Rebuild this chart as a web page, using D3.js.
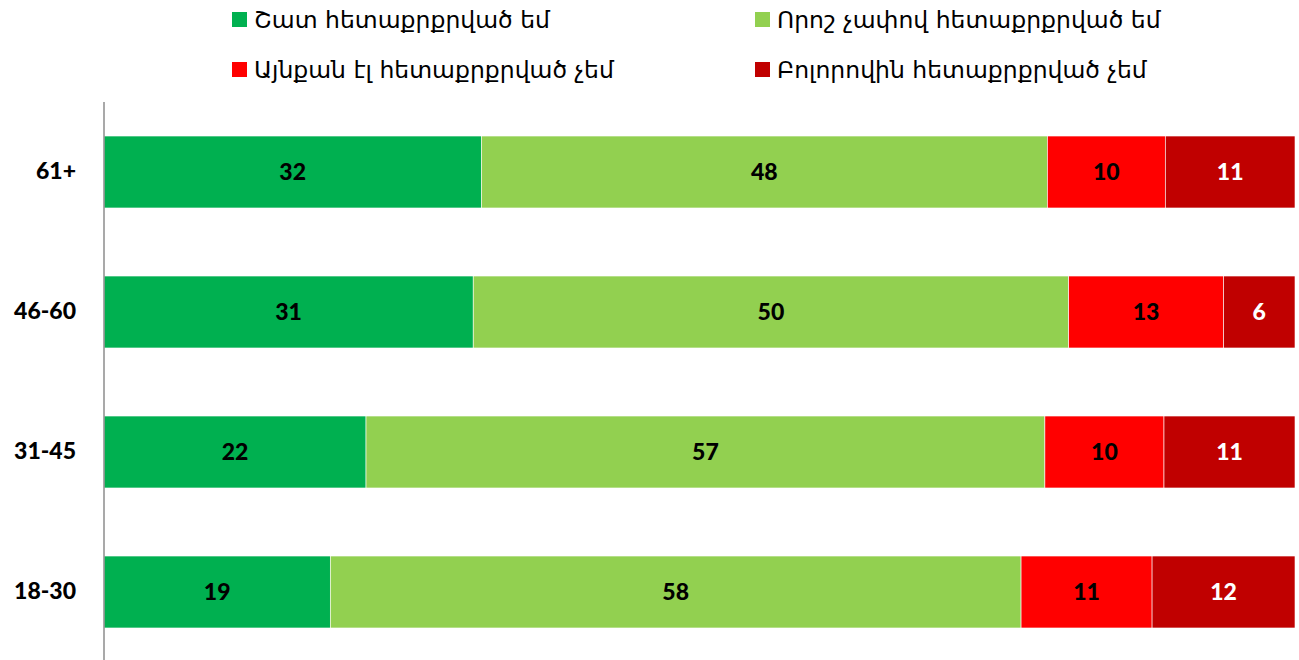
<!DOCTYPE html>
<html><head><meta charset="utf-8">
<script src="https://cdn.jsdelivr.net/npm/d3@7"></script>
<style>body{margin:0;background:#fff}</style>
</head><body>
<svg id="c" width="1299" height="660"></svg>
<script>
const categories = ["61+", "46-60", "31-45", "18-30"];
const seriesNames = ["Շատ հետաքրքրված եմ", "Որոշ չափով հետաքրքրված եմ", "Այնքան էլ հետաքրքրված չեմ", "Բոլորովին հետաքրքրված չեմ"];
const veryInterested = [32, 31, 22, 19];
const somewhatInterested = [48, 50, 57, 58];
const notSoInterested = [10, 13, 10, 11];
const notAtAll = [11, 6, 11, 12];
const colors = ["#00B050", "#92D050", "#FF0000", "#C00000"];
const labelColors = ["#000", "#000", "#000", "#fff"];

const seriesVals = [veryInterested, somewhatInterested, notSoInterested, notAtAll];
const svg = d3.select("#c");
const x0 = 104, x1 = 1295;
const y = d3.scaleBand().domain(categories).range([102, 662]).paddingInner(0.486).paddingOuter(0.243);

categories.forEach((cat, i) => {
  const vals = seriesVals.map(s => s[i]);
  const total = d3.sum(vals);
  const x = d3.scaleLinear().domain([0, total]).range([x0, x1]);
  let acc = 0;
  const segs = vals.map((v, k) => { const s = {v, k, a: acc, b: acc + v}; acc += v; return s; });
  const g = svg.append("g");
  g.selectAll("rect").data(segs).join("rect")
    .attr("x", d => x(d.a)).attr("width", d => x(d.b) - x(d.a))
    .attr("y", y(cat)).attr("height", y.bandwidth())
    .attr("fill", d => colors[d.k]).attr("stroke", "#fff").attr("stroke-width", 0.6);
  g.selectAll("text").data(segs).join("text")
    .attr("x", d => (x(d.a) + x(d.b)) / 2).attr("y", y(cat) + y.bandwidth() / 2)
    .attr("dy", "0.35em").attr("text-anchor", "middle")
    .attr("font-family", "Lato, 'Open Sans', sans-serif").attr("font-weight", "900").attr("font-size", 23)
    .attr("fill", d => labelColors[d.k]).text(d => d.v);
});

const yAxis = svg.append("g").attr("transform", `translate(${x0},0)`)
  .call(d3.axisLeft(y).tickSize(0).tickPadding(28));
yAxis.select(".domain").attr("stroke", "#8c8c8c").attr("stroke-width", 1.5).attr("d", "M0,102V660");
yAxis.selectAll("text").attr("font-family", "Lato, 'Open Sans', sans-serif").attr("font-weight", "900")
  .attr("font-size", 23).attr("fill", "#000");

const legendPos = [[232, 20], [755, 20], [232, 70], [755, 70]];
const lg = svg.append("g");
seriesNames.forEach((n, k) => {
  const [lx, ly] = legendPos[k];
  lg.append("rect").attr("x", lx).attr("y", ly - 8).attr("width", 15).attr("height", 15).attr("fill", colors[k]);
  lg.append("text").attr("x", lx + 22).attr("y", ly).attr("dy", "0.35em")
    .attr("font-family", "'DejaVu Sans', sans-serif").attr("font-size", 23.5).attr("fill", "#000").text(n);
});
</script>
</body></html>
